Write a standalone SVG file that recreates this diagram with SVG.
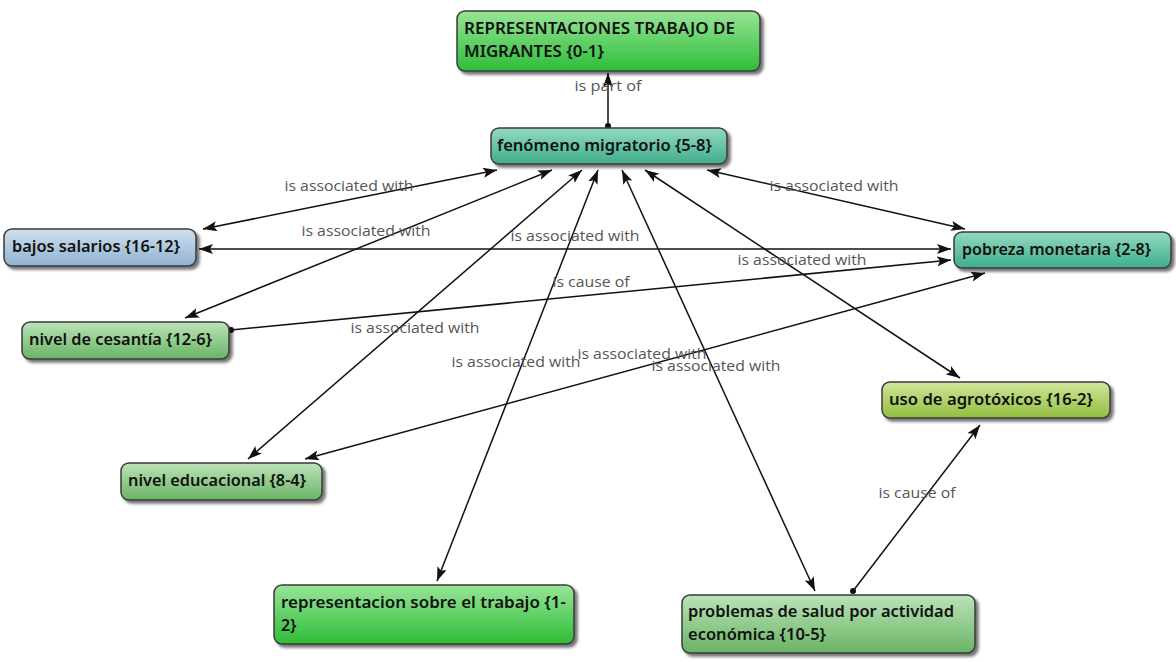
<svg xmlns="http://www.w3.org/2000/svg" width="1176" height="662" viewBox="0 0 1176 662">
<style>
.node rect{stroke:#3a3a3a;stroke-width:1.5;filter:url(#sh)}
.node text{font-family:"Noto Sans","Open Sans","Liberation Sans",sans-serif;font-size:16px;font-weight:600;fill:#111}
.lbl{font-family:"Open Sans","Noto Sans","Liberation Sans",sans-serif;font-size:15px;fill:#555}
#edges line{stroke:#111;stroke-width:1.5}
.bi{marker-start:url(#ah);marker-end:url(#ah)}
.uni{marker-start:url(#dot);marker-end:url(#ah)}
</style>
<defs>
<filter id="sh" x="-10%" y="-20%" width="125%" height="160%"><feGaussianBlur in="SourceAlpha" stdDeviation="1.8"/><feOffset dx="3" dy="3"/><feComponentTransfer><feFuncA type="linear" slope="0.55"/></feComponentTransfer><feMerge><feMergeNode/><feMergeNode in="SourceGraphic"/></feMerge></filter>
<linearGradient id="gBright" x1="0" y1="0" x2="0" y2="1"><stop offset="0" stop-color="#98e597"/><stop offset="1" stop-color="#2dbd37"/></linearGradient>
<linearGradient id="gTeal" x1="0" y1="0" x2="0" y2="1"><stop offset="0" stop-color="#93d9c2"/><stop offset="1" stop-color="#3eae8c"/></linearGradient>
<linearGradient id="gBlue" x1="0" y1="0" x2="0" y2="1"><stop offset="0" stop-color="#cfe1ef"/><stop offset="1" stop-color="#8fb2cf"/></linearGradient>
<linearGradient id="gMid" x1="0" y1="0" x2="0" y2="1"><stop offset="0" stop-color="#bce3b8"/><stop offset="1" stop-color="#69b465"/></linearGradient>
<linearGradient id="gYel" x1="0" y1="0" x2="0" y2="1"><stop offset="0" stop-color="#d0e59a"/><stop offset="1" stop-color="#92bf3f"/></linearGradient>
<marker id="ah" viewBox="0 0 14 10" refX="14" refY="5" markerWidth="14" markerHeight="10" markerUnits="userSpaceOnUse" orient="auto-start-reverse"><path d="M0,0 L14,5 L0,10 L3,5 z" fill="#111"/></marker>
<marker id="dot" viewBox="0 0 6 6" refX="3" refY="3" markerWidth="6" markerHeight="6" markerUnits="userSpaceOnUse"><circle cx="3" cy="3" r="3" fill="#111"/></marker>
</defs>
<rect width="1176" height="662" fill="#fff"/>
<g id="edges">
<line class="uni" x1="608" y1="126" x2="608" y2="73"/>
<line class="bi" x1="497" y1="170" x2="203" y2="229"/>
<line class="bi" x1="707" y1="170" x2="965" y2="229"/>
<line class="bi" x1="199" y1="249" x2="951" y2="249"/>
<line class="bi" x1="552" y1="170" x2="185" y2="318"/>
<line class="uni" x1="231" y1="330" x2="951" y2="260"/>
<line class="bi" x1="582" y1="170" x2="248" y2="459"/>
<line class="bi" x1="985" y1="273" x2="305" y2="459"/>
<line class="bi" x1="598" y1="170" x2="437" y2="581"/>
<line class="bi" x1="622" y1="170" x2="815" y2="591"/>
<line class="bi" x1="645" y1="170" x2="960" y2="378"/>
<line class="uni" x1="853" y1="591" x2="980" y2="425"/>
<text class="lbl" x="608" y="91" text-anchor="middle" textLength="67" lengthAdjust="spacingAndGlyphs">is part of</text>
<text class="lbl" x="349" y="191" text-anchor="middle" textLength="129" lengthAdjust="spacingAndGlyphs">is associated with</text>
<text class="lbl" x="834" y="191" text-anchor="middle" textLength="129" lengthAdjust="spacingAndGlyphs">is associated with</text>
<text class="lbl" x="366" y="236" text-anchor="middle" textLength="129" lengthAdjust="spacingAndGlyphs">is associated with</text>
<text class="lbl" x="575" y="241" text-anchor="middle" textLength="129" lengthAdjust="spacingAndGlyphs">is associated with</text>
<text class="lbl" x="802" y="265" text-anchor="middle" textLength="129" lengthAdjust="spacingAndGlyphs">is associated with</text>
<text class="lbl" x="591" y="287" text-anchor="middle" textLength="77" lengthAdjust="spacingAndGlyphs">is cause of</text>
<text class="lbl" x="415" y="333" text-anchor="middle" textLength="129" lengthAdjust="spacingAndGlyphs">is associated with</text>
<text class="lbl" x="516" y="367" text-anchor="middle" textLength="129" lengthAdjust="spacingAndGlyphs">is associated with</text>
<text class="lbl" x="642" y="359" text-anchor="middle" textLength="129" lengthAdjust="spacingAndGlyphs">is associated with</text>
<text class="lbl" x="716" y="371" text-anchor="middle" textLength="129" lengthAdjust="spacingAndGlyphs">is associated with</text>
<text class="lbl" x="917" y="498" text-anchor="middle" textLength="77" lengthAdjust="spacingAndGlyphs">is cause of</text>
</g>
<g id="n1" class="node"><rect x="457" y="11" width="303" height="60" rx="8" fill="url(#gBright)"/><text x="464" y="34" textLength="271" lengthAdjust="spacingAndGlyphs">REPRESENTACIONES TRABAJO DE</text><text x="464" y="57" textLength="140" lengthAdjust="spacingAndGlyphs">MIGRANTES {0-1}</text></g>
<g id="n2" class="node"><rect x="491" y="128" width="236" height="36" rx="8" fill="url(#gTeal)"/><text x="497" y="151" textLength="215" lengthAdjust="spacingAndGlyphs">fenómeno migratorio {5-8}</text></g>
<g id="n3" class="node"><rect x="4" y="229" width="192" height="37" rx="8" fill="url(#gBlue)"/><text x="12" y="252" textLength="168" lengthAdjust="spacingAndGlyphs">bajos salarios {16-12}</text></g>
<g id="n4" class="node"><rect x="954" y="232" width="217" height="36" rx="8" fill="url(#gTeal)"/><text x="962" y="255" textLength="189" lengthAdjust="spacingAndGlyphs">pobreza monetaria {2-8}</text></g>
<g id="n5" class="node"><rect x="22" y="322" width="207" height="37" rx="8" fill="url(#gMid)"/><text x="29" y="345" textLength="183" lengthAdjust="spacingAndGlyphs">nivel de cesantía {12-6}</text></g>
<g id="n6" class="node"><rect x="882" y="382" width="228" height="36" rx="8" fill="url(#gYel)"/><text x="889" y="405" textLength="204" lengthAdjust="spacingAndGlyphs">uso de agrotóxicos {16-2}</text></g>
<g id="n7" class="node"><rect x="121" y="463" width="201" height="37" rx="8" fill="url(#gMid)"/><text x="128" y="486" textLength="178" lengthAdjust="spacingAndGlyphs">nivel educacional {8-4}</text></g>
<g id="n8" class="node"><rect x="274" y="585" width="300" height="59" rx="8" fill="url(#gBright)"/><text x="281" y="608" textLength="285" lengthAdjust="spacingAndGlyphs">representacion sobre el trabajo {1-</text><text x="281" y="631">2}</text></g>
<g id="n9" class="node"><rect x="682" y="595" width="293" height="58" rx="8" fill="url(#gMid)"/><text x="688" y="617" textLength="266" lengthAdjust="spacingAndGlyphs">problemas de salud por actividad</text><text x="688" y="640" textLength="138" lengthAdjust="spacingAndGlyphs">económica {10-5}</text></g>
</svg>
